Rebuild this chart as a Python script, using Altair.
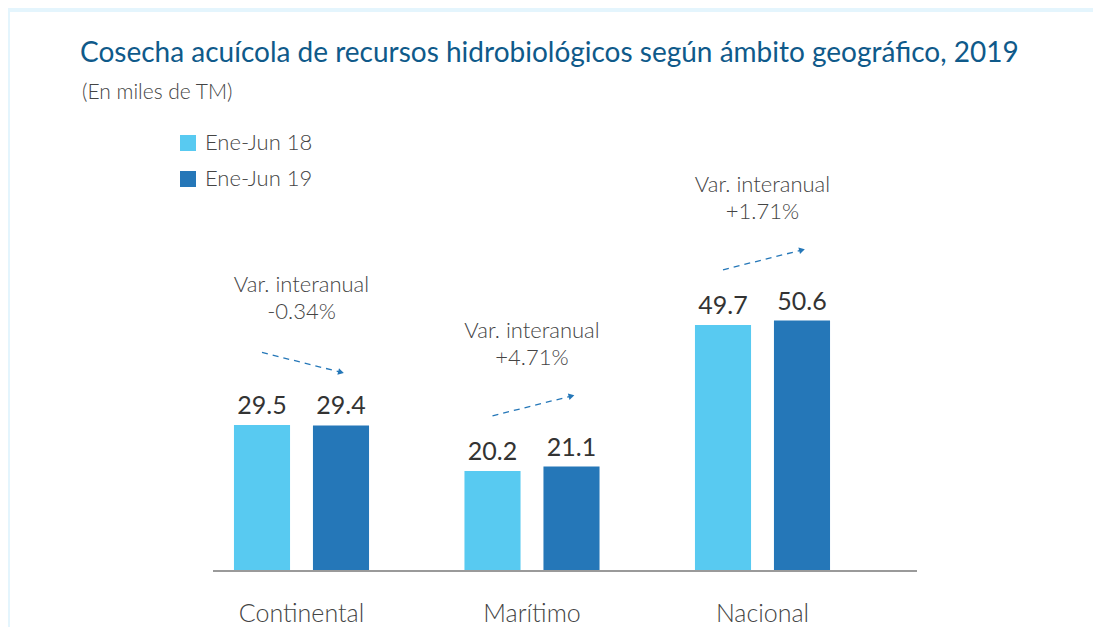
import altair as alt
import pandas as pd

# ---------------- data ----------------
categories = ["Continental", "Marítimo", "Nacional"]
series = ["Ene-Jun 18", "Ene-Jun 19"]
values_18 = [29.5, 20.2, 49.7]
values_19 = [29.4, 21.1, 50.6]
variation = ["-0.34%", "+4.71%", "+1.71%"]
annotation_label = "Var. interanual"
title_text = "Cosecha acuícola de recursos hidrobiológicos según ámbito geográfico, 2019"
subtitle_text = "(En miles de TM)"

# ---------------- style ----------------
FONT = "Lato"
C_LIGHT = "#58caf1"
C_DARK = "#2577b8"
C_TITLE = "#0f5a8a"
C_TEXT = "#444444"
ARROW_LIFT = 12.7   # data units above mean of pair
ARROW_TILT = 2.0    # data units of tilt each side

rows = []
for c, a, b in zip(categories, values_18, values_19):
    rows.append({"cat": c, "serie": series[0], "valor": a})
    rows.append({"cat": c, "serie": series[1], "valor": b})
df = pd.DataFrame(rows)

ann = pd.DataFrame({
    "cat": categories,
    "low": [min(a, b) for a, b in zip(values_18, values_19)],
    "texto": [annotation_label + "\n" + v for v in variation],
})

arrow_rows, head_rows = [], []
for c, a, b in zip(categories, values_18, values_19):
    mid = (a + b) / 2 + ARROW_LIFT
    s = 1 if b > a else -1
    arrow_rows.append({"cat": c, "serie": series[0], "ay": mid - s * ARROW_TILT})
    arrow_rows.append({"cat": c, "serie": series[1], "ay": mid + s * ARROW_TILT})
    head_rows.append({"cat": c, "serie": series[1], "ay": mid + s * ARROW_TILT,
                      "ang": 346 if s > 0 else 14})
arrows = pd.DataFrame(arrow_rows)
heads = pd.DataFrame(head_rows)

titles = pd.DataFrame({"t": [title_text]})
subtitles = pd.DataFrame({"t": [subtitle_text]})

# ---------------- scales ----------------
x_scale = alt.Scale(domain=categories, range=[176.25, 867.75],
                    paddingInner=0.414, paddingOuter=0.207)
xo_scale = alt.Scale(domain=series, paddingInner=0.29, paddingOuter=0)
y_scale = alt.Scale(domain=[0, 100], range=[559, 64])

X = alt.X("cat:N", scale=x_scale, axis=None, sort=categories)
XO = alt.XOffset("serie:N", scale=xo_scale, sort=series)

bars = alt.Chart(df).mark_bar().encode(
    x=X, xOffset=XO,
    y=alt.Y("valor:Q", scale=y_scale, axis=None),
    color=alt.Color("serie:N", scale=alt.Scale(domain=series, range=[C_LIGHT, C_DARK]),
                    legend=alt.Legend(title=None, orient="none", legendX=167, legendY=120,
                                      symbolType="square", symbolSize=256,
                                      symbolStrokeWidth=0, labelFontSize=22,
                                      labelFontWeight=300,
                                      labelColor=C_TEXT, labelFont=FONT,
                                      rowPadding=14, labelOffset=6, padding=0)),
)

values = alt.Chart(df).mark_text(fontSize=25, dy=-11, baseline="alphabetic",
                                 color="#333333", font=FONT).encode(
    x=X, xOffset=XO,
    y=alt.Y("valor:Q", scale=y_scale, axis=None),
    text=alt.Text("valor:Q", format=".1f"),
)

baseline_rule = alt.Chart(df).mark_rule(color="#9a9a9a", strokeWidth=2).encode(
    x=alt.value(203), x2=alt.value(907),
    y=alt.Y(datum=0, scale=y_scale, axis=None),
)

cat_labels = alt.Chart(ann).mark_text(fontSize=25, fontWeight=300, color=C_TEXT,
                                      baseline="middle", font=FONT).encode(
    x=X, y=alt.value(602), text="cat:N",
)

ann_text = alt.Chart(ann).mark_text(fontSize=22, fontWeight=300, color=C_TEXT,
                                    lineBreak="\n", lineHeight=27, dy=-133,
                                    baseline="alphabetic", font=FONT).encode(
    x=X, y=alt.Y("low:Q", scale=y_scale, axis=None), text="texto:N",
)

arrow_line = alt.Chart(arrows).mark_line(strokeDash=[6, 5], strokeWidth=1.3,
                                         color=C_DARK).encode(
    x=X, xOffset=XO,
    y=alt.Y("ay:Q", scale=y_scale, axis=None),
    detail="cat:N",
)

arrow_head = alt.Chart(heads).mark_point(shape="triangle-right", filled=True, size=45,
                                         color=C_DARK, opacity=1).encode(
    x=X, xOffset=XO,
    y=alt.Y("ay:Q", scale=y_scale, axis=None),
    angle=alt.Angle("ang:Q", scale=None),
)

title_mark = alt.Chart(titles).mark_text(fontSize=28, color=C_TITLE, align="left",
                                         baseline="alphabetic", font=FONT).encode(
    x=alt.value(70), y=alt.value(50), text="t:N")

subtitle_mark = alt.Chart(subtitles).mark_text(fontSize=21, fontWeight=300, color=C_TEXT,
                                               align="left", baseline="alphabetic",
                                               font=FONT).encode(
    x=alt.value(72), y=alt.value(87), text="t:N")

chart = alt.layer(
    bars, values, baseline_rule, cat_labels, ann_text, arrow_line, arrow_head,
    title_mark, subtitle_mark,
).properties(
    width=1083, height=615,
    autosize=alt.AutoSizeParams(type="none"),
    padding={"left": 2, "top": 4, "right": 0, "bottom": 0},
).configure(
    background="#e4f5fd",
).configure_view(
    fill="white", stroke=None,
)

chart.save("out.html", embed_options={"renderer": "svg", "actions": False})
